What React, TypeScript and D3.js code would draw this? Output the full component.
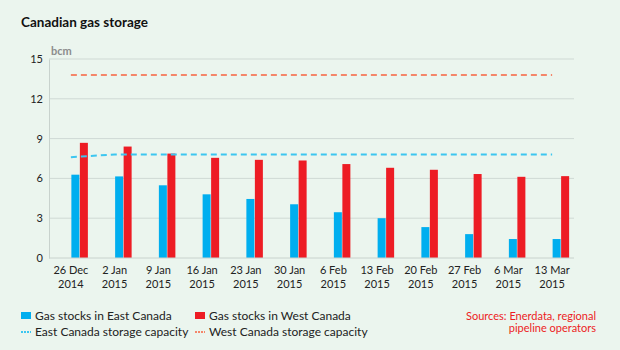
import React, { useEffect, useRef } from 'react';
import * as d3 from 'd3';

const categories = [
  ['26 Dec', '2014'], ['2 Jan', '2015'], ['9 Jan', '2015'], ['16 Jan', '2015'],
  ['23 Jan', '2015'], ['30 Jan', '2015'], ['6 Feb', '2015'], ['13 Feb', '2015'],
  ['20 Feb', '2015'], ['27 Feb', '2015'], ['6 Mar', '2015'], ['13 Mar', '2015'],
];
const eastStocks = [6.28, 6.15, 5.48, 4.8, 4.45, 4.05, 3.45, 3.0, 2.33, 1.8, 1.43, 1.43];
const westStocks = [8.68, 8.4, 7.87, 7.55, 7.4, 7.35, 7.08, 6.8, 6.65, 6.33, 6.12, 6.17];
const eastCapacity = [7.6, 7.8, 7.8, 7.8, 7.8, 7.8, 7.8, 7.8, 7.8, 7.8, 7.8, 7.8];
const westCapacity = [13.8, 13.8, 13.8, 13.8, 13.8, 13.8, 13.8, 13.8, 13.8, 13.8, 13.8, 13.8];
const yTicks = [0, 3, 6, 9, 12, 15];

const EAST = '#00aeef';
const WEST = '#ed1c24';
const EAST_CAP = '#3cc6f0';
const WEST_CAP = '#f4866a';
const FONT = 'Lato, "Open Sans", sans-serif';

const App: React.FC = () => {
  const ref = useRef<SVGSVGElement | null>(null);

  useEffect(() => {
    const W = 620, H = 350;
    const left = 49, right = 574, top = 59, bottom = 258;
    const svg = d3.select(ref.current);
    svg.selectAll('*').remove();
    svg.attr('width', W).attr('height', H);

    svg.append('rect').attr('width', W).attr('height', H).attr('fill', '#ebf5ee');

    svg.append('text')
      .attr('x', 21).attr('y', 27)
      .style('font-family', FONT).style('font-size', '13.5px').style('font-weight', 'bold')
      .attr('fill', '#111')
      .text('Canadian gas storage');

    svg.append('text')
      .attr('x', 51).attr('y', 55)
      .style('font-family', FONT).style('font-size', '11px').style('font-weight', 'bold')
      .attr('fill', '#8c8c8c')
      .text('bcm');

    const x = d3.scaleBand<number>()
      .domain(d3.range(categories.length))
      .range([left, right]);
    const y = d3.scaleLinear().domain([0, 15]).range([bottom, top]);

    // gridlines
    svg.append('g').selectAll('line')
      .data(yTicks.filter(t => t > 0))
      .enter().append('line')
      .attr('x1', left).attr('x2', right)
      .attr('y1', d => y(d)).attr('y2', d => y(d))
      .attr('stroke', '#cfd9d4').attr('stroke-width', 1);

    // y axis
    const yAxis = svg.append('g')
      .attr('transform', `translate(${left},0)`)
      .call(d3.axisLeft(y).tickValues(yTicks).tickSize(0).tickPadding(6));
    yAxis.select('.domain').attr('stroke', '#c8d2cd');
    yAxis.selectAll('text')
      .style('font-family', FONT).style('font-size', '11px').attr('fill', '#222');

    const center = (i: number) => x(i)! + x.bandwidth() / 2;
    const bw = 8;

    svg.append('g').selectAll('rect')
      .data(eastStocks)
      .enter().append('rect')
      .attr('x', (_, i) => center(i) + 0.5)
      .attr('y', d => y(d))
      .attr('width', bw)
      .attr('height', d => bottom - y(d))
      .attr('fill', EAST);

    svg.append('g').selectAll('rect')
      .data(westStocks)
      .enter().append('rect')
      .attr('x', (_, i) => center(i) + bw + 1)
      .attr('y', d => y(d))
      .attr('width', bw)
      .attr('height', d => bottom - y(d))
      .attr('fill', WEST);

    // x axis baseline
    svg.append('line')
      .attr('x1', left).attr('x2', right)
      .attr('y1', bottom).attr('y2', bottom)
      .attr('stroke', '#c8d2cd');

    const line = d3.line<number>()
      .x((_, i) => center(i))
      .y(d => y(d));

    svg.append('path')
      .datum(eastCapacity)
      .attr('d', line)
      .attr('fill', 'none')
      .attr('stroke', EAST_CAP).attr('stroke-width', 2)
      .attr('stroke-dasharray', '6,4');

    svg.append('path')
      .datum(westCapacity)
      .attr('d', line)
      .attr('fill', 'none')
      .attr('stroke', WEST_CAP).attr('stroke-width', 2)
      .attr('stroke-dasharray', '6,4');

    // x labels
    const xl = svg.append('g');
    categories.forEach((c, i) => {
      const t = xl.append('text')
        .attr('x', center(i)).attr('y', 274)
        .attr('text-anchor', 'middle')
        .style('font-family', FONT).style('font-size', '11px')
        .attr('fill', '#222');
      t.append('tspan').attr('x', center(i)).text(c[0]);
      t.append('tspan').attr('x', center(i)).attr('dy', 14).text(c[1]);
    });

    // legend
    const legend = svg.append('g').style('font-family', FONT).style('font-size', '12px');
    const items = [
      { label: 'Gas stocks in East Canada', color: EAST, type: 'bar', lx: 21, ly: 316 },
      { label: 'Gas stocks in West Canada', color: WEST, type: 'bar', lx: 195, ly: 316 },
      { label: 'East Canada storage capacity', color: EAST_CAP, type: 'line', lx: 21, ly: 332 },
      { label: 'West Canada storage capacity', color: WEST_CAP, type: 'line', lx: 195, ly: 332 },
    ];
    items.forEach(it => {
      if (it.type === 'bar') {
        legend.append('rect')
          .attr('x', it.lx).attr('y', it.ly - 4).attr('width', 10).attr('height', 7)
          .attr('fill', it.color);
      } else {
        legend.append('line')
          .attr('x1', it.lx).attr('x2', it.lx + 10)
          .attr('y1', it.ly).attr('y2', it.ly)
          .attr('stroke', it.color).attr('stroke-width', 2)
          .attr('stroke-dasharray', '2,1');
      }
      legend.append('text')
        .attr('x', it.lx + 14).attr('y', it.ly + 4)
        .attr('fill', '#222')
        .text(it.label);
    });

    const src = svg.append('text')
      .attr('text-anchor', 'end')
      .style('font-family', FONT).style('font-size', '11px')
      .attr('fill', '#ed1c24');
    src.append('tspan').attr('x', 596).attr('y', 320).text('Sources: Enerdata, regional');
    src.append('tspan').attr('x', 596).attr('y', 332).text('pipeline operators');
  }, []);

  return <svg ref={ref} style={{ position: 'absolute', left: 0, top: 0 }} />;
};

export default App;
